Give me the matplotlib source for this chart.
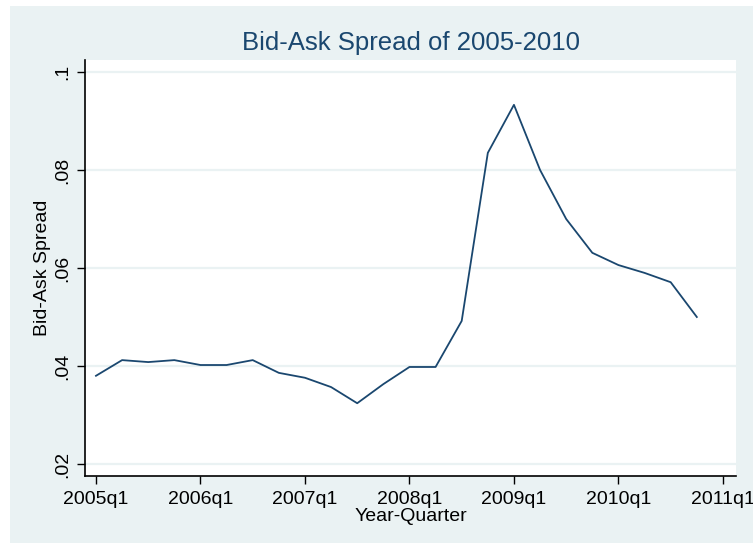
"""Bid-ask spread by quarter, 2005-2010 (Stata-style line chart)."""

import matplotlib

matplotlib.use("Agg")
import matplotlib.pyplot as plt
from matplotlib.patches import Rectangle

plt.rcParams["font.family"] = ["Liberation Sans", "DejaVu Sans"]

# quarterly values, 2005q1 .. 2010q4
quarters = [
    "2005q1", "2005q2", "2005q3", "2005q4",
    "2006q1", "2006q2", "2006q3", "2006q4",
    "2007q1", "2007q2", "2007q3", "2007q4",
    "2008q1", "2008q2", "2008q3", "2008q4",
    "2009q1", "2009q2", "2009q3", "2009q4",
    "2010q1", "2010q2", "2010q3", "2010q4",
]
spread = [
    0.0380, 0.0412, 0.0408, 0.0412,
    0.0402, 0.0402, 0.0412, 0.0386,
    0.0376, 0.0357, 0.0324, 0.0363,
    0.0398, 0.0398, 0.0492, 0.0835,
    0.0933, 0.0800, 0.0700, 0.0631,
    0.0606, 0.0590, 0.0571, 0.0500,
]
xtick_labels = ["2005q1", "2006q1", "2007q1", "2008q1", "2009q1", "2010q1", "2011q1"]
ytick_values = [0.02, 0.04, 0.06, 0.08, 0.10]
ytick_labels = [".02", ".04", ".06", ".08", ".1"]

BG = "#eaf2f3"
LINE = "#1a476f"

W, H = 753, 546
fig = plt.figure(figsize=(W / 100, H / 100), dpi=100, facecolor="white")
fig.patches.append(
    Rectangle((10 / W, 3 / H), 1 - 10 / W, 1 - 9 / H, transform=fig.transFigure,
              facecolor=BG, edgecolor="none", zorder=-10)
)

ax = fig.add_axes([85 / W, 1 - 476 / H, (736 - 85) / W, (476 - 60) / H])
ax.set_facecolor("white")

x = list(range(len(spread)))
ax.plot(x, spread, color=LINE, linewidth=1.3, zorder=3)

ax.set_xlim(-0.42, 24.5)
ax.set_ylim(0.01755, 0.10245)
ax.set_xticks([4 * i for i in range(len(xtick_labels))])
ax.set_xticklabels(xtick_labels)
ax.set_yticks(ytick_values)
ax.set_yticklabels(ytick_labels, rotation=90, va="center")

for v in ytick_values:
    ax.axhline(v, color=BG, linewidth=1.6, zorder=1)

for side in ("top", "right"):
    ax.spines[side].set_visible(False)
for side in ("left", "bottom"):
    ax.spines[side].set_color("black")
    ax.spines[side].set_linewidth(1.2)

ax.tick_params(axis="both", direction="out", length=6, width=1.0,
               color="black", labelsize=14, labelcolor="black")
ax.tick_params(axis="x", pad=5)
ax.tick_params(axis="y", pad=4)

ax.set_xlabel("Year-Quarter", fontsize=14, labelpad=0)
ax.set_ylabel("Bid-Ask Spread", fontsize=14, labelpad=2)
ax.set_title("Bid-Ask Spread of 2005-2010", fontsize=18.5, color="#1a476f", pad=7)

fig.savefig("out.png", dpi=100, facecolor=fig.get_facecolor())
plt.close(fig)
